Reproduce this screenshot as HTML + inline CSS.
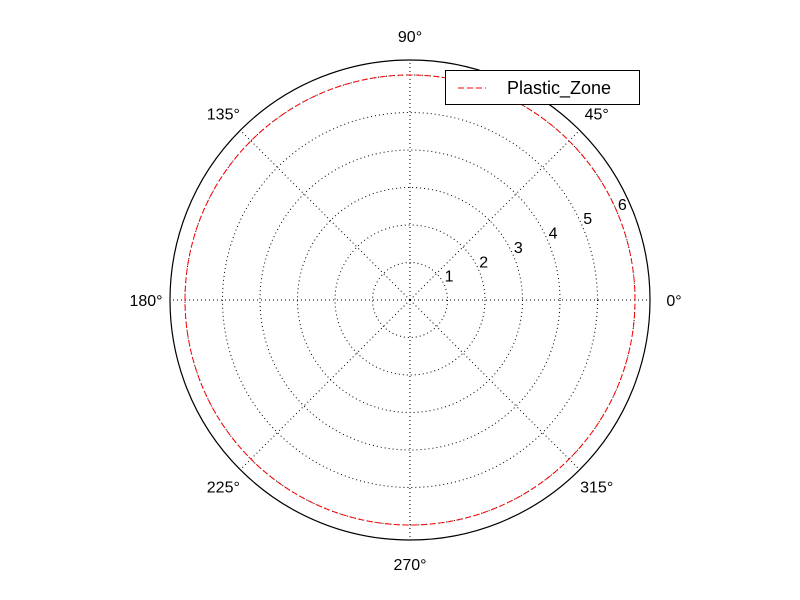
<!DOCTYPE html>
<html><head><meta charset="utf-8"><style>body{margin:0;background:#fff}svg{display:block}text{font-family:"Liberation Sans","DejaVu Sans",sans-serif;font-size:16px;fill:#000}</style></head>
<body>
<svg id="c" width="800" height="600"></svg>
<script>
const rTicks=[1,2,3,4,5,6];
const angleTicks=[0,45,90,135,180,225,270,315];
const zoneTheta=[0,45,90,135,180,225,270,315,360];
const zoneR=[6,6,6,6,6,6,6,6,6];
const rMax=6.4, cx=410, cy=300, R=240;
const NS='http://www.w3.org/2000/svg';
const svg=document.getElementById('c');
function rs(r){return r/rMax*R;}
function pt(r,deg){const a=deg*Math.PI/180;return [cx+rs(r)*Math.cos(a),cy-rs(r)*Math.sin(a)];}
function mk(t,a,p){const e=document.createElementNS(NS,t);for(const k in a)e.setAttribute(k,a[k]);(p||svg).appendChild(e);return e;}
rTicks.forEach(r=>{const e=mk('circle',{cx,cy,r:rs(r),fill:'none',stroke:'#000','stroke-width':1,'stroke-dasharray':'1,3'});

});
angleTicks.forEach(d=>{const [x,y]=pt(rMax,d);const e=mk('line',{x1:cx,y1:cy,x2:x,y2:y,stroke:'#000','stroke-width':1,'stroke-dasharray':'1,3'});


const [lx,ly]=pt(rMax*1.1,d);const t=mk('text',{x:lx,y:ly+6,'text-anchor':'middle'});t.textContent=d+'°';

});
rTicks.forEach(r=>{const [x,y]=pt(r,22.5);const t=mk('text',{x:x,y:y-4});t.textContent=r;

});
let d='';const N=360;
for(let i=0;i<=N;i++){const th=i*360/N;let k=0;while(k<zoneTheta.length-2&&th>zoneTheta[k+1])k++;
const f=(th-zoneTheta[k])/(zoneTheta[k+1]-zoneTheta[k]);const r=zoneR[k]+(zoneR[k+1]-zoneR[k])*f;const [x,y]=pt(r,th);d+=(i?'L':'M')+x.toFixed(2)+' '+y.toFixed(2);}
const pz=mk('path',{d,fill:'none',stroke:'#f00','stroke-width':1,'stroke-dasharray':'6,3'});


const ob=mk('circle',{cx,cy,r:R,fill:'none',stroke:'#000','stroke-width':1.2});


const dot=mk('circle',{cx,cy,r:1.2,fill:'#000'});


const lg=mk('g',{});


mk('rect',{x:445.5,y:70.5,width:194,height:34,fill:'#fff',stroke:'#000','stroke-width':1},lg);
mk('line',{x1:458,y1:88,x2:486,y2:88,stroke:'#f00','stroke-width':1,'stroke-dasharray':'6,3'},lg);
const lt=mk('text',{x:507,y:94,style:'font-size:18px'},lg);lt.textContent='Plastic_Zone';


</script>
</body></html>
